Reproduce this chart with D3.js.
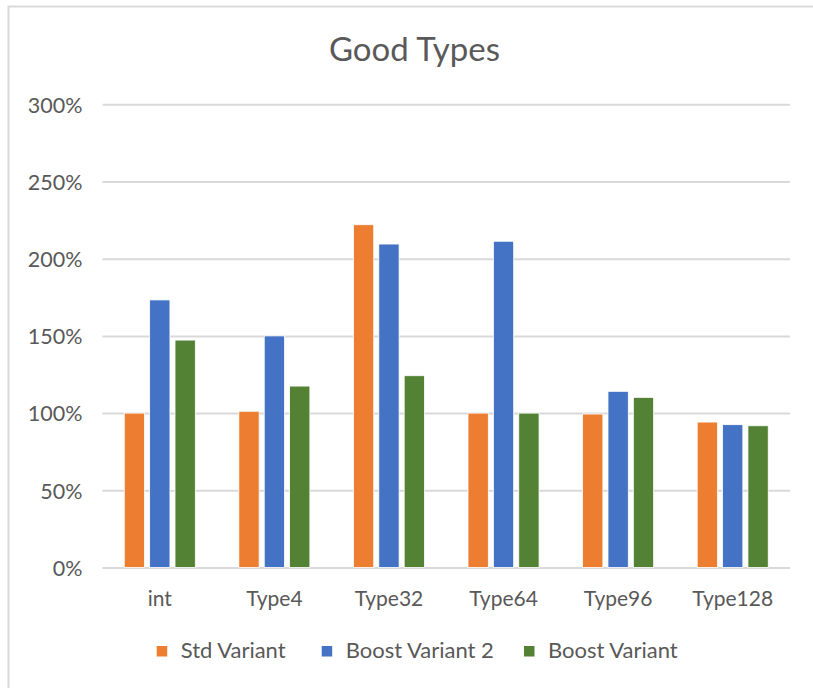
<!DOCTYPE html>
<html><head><meta charset="utf-8">
<script src="https://cdn.jsdelivr.net/npm/d3@7"></script>
<style>html,body{margin:0;padding:0;background:#fff;}svg{display:block;font-family:Lato,"Open Sans",sans-serif;}</style>
</head><body>
<script>
const categories = ["int","Type4","Type32","Type64","Type96","Type128"];
const seriesNames = ["Std Variant","Boost Variant 2","Boost Variant"];
const stdVariant = [1.00, 1.012, 2.22, 1.00, 0.994, 0.942];
const boostVariant2 = [1.733, 1.50, 2.095, 2.113, 1.141, 0.925];
const boostVariant = [1.473, 1.175, 1.242, 1.00, 1.102, 0.918];
const yTicks = [0, 0.5, 1, 1.5, 2, 2.5, 3];
const colors = ["#ED7D31","#4472C4","#548235"];
const seriesValues = [stdVariant, boostVariant2, boostVariant];

const W = 813, H = 688;
const svg = d3.select("body").append("svg").attr("width", W).attr("height", H);
svg.append("rect").attr("x",8.5).attr("y",6.5).attr("width",W+10).attr("height",H+10)
  .attr("fill","#fff").attr("stroke","#d9d9d9").attr("stroke-width",2);

svg.append("text").attr("x",414.5).attr("y",61).attr("text-anchor","middle")
  .attr("fill","#595959").attr("font-size",33).text("Good Types");

const x0 = d3.scaleBand().domain(categories).range([102.5,790]).paddingInner(0.38).paddingOuter(0.19);
const x1 = d3.scaleBand().domain(d3.range(3)).range([0, x0.bandwidth()]).paddingInner(0.2);
const y = d3.scaleLinear().domain([0,3]).range([567.5,104.3]);

const yAxis = d3.axisLeft(y).tickValues(yTicks).tickFormat(d3.format(".0%")).tickSize(-(790-102.5)).tickPadding(20);
const gy = svg.append("g").attr("transform","translate(102.5,0)").call(yAxis);
gy.select(".domain").remove();
gy.selectAll(".tick line").attr("stroke","#d9d9d9").attr("stroke-width",2);
gy.selectAll(".tick text").attr("fill","#595959").attr("font-size",21.5).attr("font-family","Lato").attr("dy","0.36em");

const g = svg.append("g");
categories.forEach((c,i)=>{
  const gg = g.append("g").attr("transform",`translate(${x0(c)},0)`);
  seriesValues.forEach((vals,s)=>{
    gg.append("rect").attr("x",x1(s)).attr("y",y(vals[i]))
      .attr("width",x1.bandwidth()).attr("height",y(0)-y(vals[i]))
      .attr("fill",colors[s]).attr("stroke","#fff").attr("stroke-width",0.8);
  });
});

const xAxis = d3.axisBottom(x0).tickSize(0).tickPadding(24);
const gx = svg.append("g").attr("transform","translate(0,567.5)").call(xAxis);
gx.select(".domain").remove();
gx.selectAll(".tick text").attr("fill","#595959").attr("font-size",21).attr("font-family","Lato");

const legendX = [156.7, 321.7, 524];
const lg = svg.append("g");
seriesNames.forEach((n,s)=>{
  lg.append("rect").attr("x",legendX[s]).attr("y",646).attr("width",10.5).attr("height",10.5).attr("fill",colors[s]);
  lg.append("text").attr("x",legendX[s]+24).attr("y",657.5).attr("fill","#595959").attr("font-size",22).text(n);
});
</script>
</body></html>
